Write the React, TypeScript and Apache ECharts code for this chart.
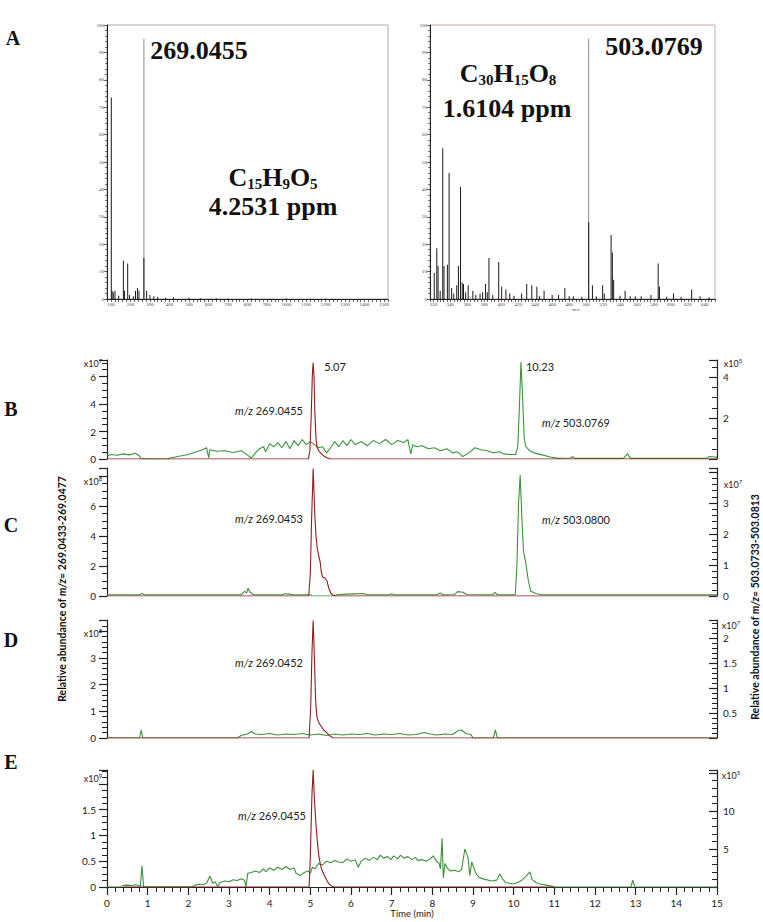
import React, { useEffect, useRef } from "react";
import * as echarts from "echarts";

// ---------- Panel A: mass spectra ----------
const SPEC1_PEAKS: [number, number][] = [
  [102, 73.5], [106, 3], [112, 2.5], [121, 3], [140, 1.2], [164, 14], [170, 3], [186, 13],
  [195, 1.5], [215, 1], [226, 3], [236, 4], [244, 3], [269.0455, 15], [283, 3], [300, 1.5],
  [320, 1], [340, 0.8], [380, 0.5], [420, 0.6], [500, 0.4], [560, 0.3], [640, 0.3],
  [700, 0.2], [820, 0.2], [1000, 0.2], [1200, 0.2],
];
const SPEC1_MARK: [number, number][] = [[269.0455, 95]];

const SPEC2_PEAKS: [number, number][] = [
  [321, 9.5], [324, 18.5], [325.5, 12], [328, 3], [331, 55], [332.5, 12], [336.5, 12.5],
  [338.5, 46], [341.5, 4], [344, 2], [347.5, 5], [349.5, 12], [352, 41], [354, 6],
  [355.5, 5.5], [358, 2.5], [361, 5], [366.5, 3], [370, 1.5], [375, 2], [378, 2.5],
  [381.5, 5.5], [383.5, 2.5], [385.5, 15], [390, 1.5], [397, 13.5], [400.5, 4.5],
  [405.5, 3.5], [410, 2], [415, 1.2], [424, 2], [430, 5.5], [436, 5], [442, 4.5],
  [445, 1], [450.5, 3], [460, 1.5], [467.5, 1.5], [475, 4], [480, 1], [485, 1], [495, 0.8],
  [503.0769, 28], [507.5, 5], [512, 1], [519.5, 5], [521.5, 2], [529.5, 23.4], [531, 17],
  [532.5, 7], [540, 1.2], [546, 3], [552, 1], [558, 1], [565, 1], [576.5, 1.5], [585, 13],
  [586.5, 4.5], [595, 0.8], [603, 2], [612, 0.8], [624.5, 3.5], [634.5, 1], [645, 0.6],
];
const SPEC2_MARK: [number, number][] = [[503.0769, 95]];

const SPEC1_X_LABELS = [100, 200, 300, 400, 500, 600, 700, 800, 900, 1000, 1100, 1200, 1300, 1400, 1500];
const SPEC2_X_LABELS = [320, 340, 360, 380, 400, 420, 440, 460, 480, 500, 520, 540, 560, 580, 600, 620, 640];
const SPEC_Y_LABELS = [0, 10, 20, 30, 40, 50, 60, 70, 80, 90, 100];

// ---------- Panels B–E: chromatograms (time in min) ----------
const B_RED: [number, number][] = [
  [0, 0], [4.95, 0], [4.99, 0.6], [5.02, 3.0], [5.05, 6.2], [5.07, 7.0], [5.09, 6.0], [5.11, 3.5],
  [5.14, 1.4], [5.17, 0.8], [5.22, 0.55], [5.28, 0.35], [5.35, 0.18], [5.42, 0.07], [5.5, 0], [15, 0],
];
const B_GREEN: [number, number][] = [
  [0, 0.15], [0.1, 0.22], [0.25, 0.18], [0.4, 0.25], [0.55, 0.2], [0.7, 0.28], [0.8, 0.15], [0.83, 0.02],
  [1.0, 0], [1.5, 0], [1.56, 0.05], [1.8, 0.15], [2.0, 0.22], [2.2, 0.35], [2.35, 0.45], [2.45, 0.55],
  [2.5, 0.05], [2.53, 0.45], [2.7, 0.38], [2.9, 0.4], [3.1, 0.32], [3.3, 0.4], [3.45, 0.2], [3.55, 0.05],
  [3.65, 0.3], [3.75, 0.5], [3.85, 0.6], [3.9, 0.35], [4.0, 0.75], [4.1, 0.6], [4.2, 0.8], [4.3, 0.55],
  [4.4, 0.85], [4.5, 0.5], [4.6, 0.9], [4.7, 0.65], [4.8, 0.95], [4.9, 0.7], [5.0, 0.85], [5.1, 0.7],
  [5.2, 0.55], [5.3, 0.6], [5.4, 0.3], [5.5, 0.55], [5.6, 0.85], [5.7, 0.6], [5.8, 0.9], [5.9, 0.65],
  [6.0, 0.95], [6.1, 0.7], [6.25, 0.85], [6.4, 0.65], [6.55, 0.9], [6.7, 0.75], [6.85, 0.95], [7.0, 0.7],
  [7.15, 0.9], [7.3, 0.8], [7.4, 0.95], [7.47, 0.25], [7.52, 0.7], [7.6, 0.6], [7.75, 0.65], [7.9, 0.5],
  [8.05, 0.55], [8.2, 0.4], [8.36, 0.5], [8.5, 0.3], [8.62, 0.35], [8.75, 0.12], [8.9, 0.3], [9.05, 0.55],
  [9.2, 0.45], [9.35, 0.4], [9.5, 0.3], [9.65, 0.35], [9.75, 0.25], [9.9, 0.22], [10.05, 0.22], [10.1, 0.6],
  [10.14, 2.5], [10.18, 4.73], [10.22, 3.0], [10.26, 1.0], [10.3, 0.6], [10.4, 0.4], [10.5, 0.3], [10.7, 0.2],
  [10.9, 0.1], [11.1, 0.03], [11.4, 0.05], [11.45, 0.12], [11.5, 0.03], [12.7, 0.03], [12.8, 0.25],
  [12.87, 0.03], [14.75, 0.03], [14.8, 0.12], [14.95, 0.1], [15, 0.08],
];
const C_RED: [number, number][] = [
  [0, 0], [4.96, 0], [5.0, 1.5], [5.03, 5.0], [5.07, 8.5], [5.09, 7.0], [5.11, 5.4], [5.14, 4.0],
  [5.17, 3.2], [5.21, 2.6], [5.24, 2.3], [5.27, 1.6], [5.3, 1.25], [5.36, 1.2], [5.41, 1.0], [5.45, 0.55],
  [5.5, 0.2], [5.56, 0.05], [5.62, 0], [15, 0],
];
const C_GREEN: [number, number][] = [
  [0, 0.04], [0.8, 0.04], [0.86, 0.08], [0.92, 0.04], [3.3, 0.04], [3.38, 0.15], [3.43, 0.1], [3.47, 0.25],
  [3.52, 0.12], [3.6, 0.04], [4.3, 0.04], [4.38, 0.07], [4.5, 0.06], [4.58, 0.04], [5.0, 0.04], [5.05, 0],
  [5.6, 0], [5.65, 0.04], [5.9, 0.06], [6.1, 0.07], [6.3, 0.08], [6.4, 0.04], [6.95, 0.04], [7.0, 0.07],
  [7.05, 0.04], [8.12, 0.04], [8.19, 0.1], [8.26, 0.04], [8.55, 0.05], [8.62, 0.14], [8.75, 0.12],
  [8.85, 0.05], [9.48, 0.04], [9.54, 0.12], [9.6, 0.04], [10.04, 0.04], [10.08, 1.0], [10.12, 3.0],
  [10.16, 3.9], [10.2, 2.6], [10.24, 1.45], [10.3, 1.05], [10.36, 0.5], [10.42, 0.15], [10.55, 0.08],
  [10.7, 0.04], [15, 0.04],
];
const D_RED: [number, number][] = [
  [0, 0], [4.97, 0], [5.01, 1.2], [5.04, 3.2], [5.07, 4.4], [5.1, 3.0], [5.13, 1.4], [5.16, 0.8],
  [5.2, 0.6], [5.26, 0.45], [5.33, 0.3], [5.4, 0.2], [5.48, 0.08], [5.56, 0], [15, 0],
];
const D_GREEN: [number, number][] = [
  [0, 0], [0.8, 0], [0.84, 0.16], [0.88, 0], [3.2, 0], [3.3, 0.05], [3.45, 0.08], [3.55, 0.13],
  [3.65, 0.08], [3.8, 0.07], [4.0, 0.09], [4.2, 0.06], [4.4, 0.08], [4.6, 0.07], [4.8, 0.09], [5.0, 0.06],
  [5.2, 0.08], [5.4, 0.05], [5.6, 0.08], [5.8, 0.06], [6.0, 0.08], [6.2, 0.07], [6.4, 0.09], [6.6, 0.06],
  [6.8, 0.08], [7.0, 0.07], [7.2, 0.09], [7.4, 0.06], [7.6, 0.07], [7.8, 0.11], [7.95, 0.08], [8.1, 0.06],
  [8.3, 0.08], [8.5, 0.07], [8.62, 0.14], [8.72, 0.16], [8.82, 0.09], [8.95, 0.07], [9.0, 0], [9.5, 0],
  [9.55, 0.16], [9.6, 0], [15, 0],
];
const E_RED: [number, number][] = [
  [0.4, 0], [4.97, 0], [5.0, 0.6], [5.04, 1.8], [5.07, 2.27], [5.1, 1.7], [5.14, 1.2], [5.17, 0.9],
  [5.21, 0.6], [5.25, 0.42], [5.31, 0.28], [5.38, 0.17], [5.45, 0.07], [5.52, 0.02], [5.6, 0], [11.0, 0],
];
const E_GREEN: [number, number][] = [
  [0, 0], [0.35, 0], [0.38, 0.2], [0.5, 0.25], [0.6, 0.2], [0.7, 0.3], [0.78, 0.2], [0.82, 0.1], [0.86, 2.8],
  [0.9, 0.05], [1.0, 0], [2.1, 0], [2.15, 0.2], [2.25, 0.35], [2.35, 0.3], [2.45, 0.5], [2.53, 1.45],
  [2.6, 0.5], [2.66, 0.7], [2.72, 0.05], [2.78, 0.6], [2.9, 0.8], [3.0, 0.7], [3.1, 0.95], [3.2, 0.85],
  [3.3, 1.1], [3.38, 0.9], [3.42, 0.05], [3.46, 1.8], [3.55, 1.9], [3.65, 2.1], [3.75, 1.9], [3.85, 2.4],
  [3.9, 2.0], [4.0, 2.5], [4.1, 2.2], [4.2, 2.6], [4.3, 2.3], [4.4, 2.7], [4.5, 2.3], [4.6, 2.5],
  [4.65, 1.8], [4.75, 1.5], [4.85, 1.9], [4.95, 2.1], [5.0, 1.8], [5.05, 2.6], [5.12, 2.4], [5.2, 3.1],
  [5.3, 2.9], [5.4, 3.4], [5.5, 3.2], [5.6, 3.5], [5.7, 3.3], [5.8, 3.2], [5.9, 3.7], [6.0, 3.4],
  [6.1, 3.6], [6.18, 2.6], [6.25, 3.4], [6.35, 3.8], [6.45, 3.5], [6.55, 3.9], [6.65, 3.6], [6.72, 4.2],
  [6.8, 3.8], [6.9, 4.0], [6.98, 3.6], [7.05, 4.1], [7.15, 3.7], [7.22, 4.2], [7.3, 3.8], [7.4, 4.0],
  [7.5, 3.6], [7.58, 3.9], [7.65, 3.5], [7.75, 3.6], [7.85, 3.4], [7.95, 3.7], [8.02, 4.1], [8.1, 3.4],
  [8.16, 3.2], [8.2, 2.4], [8.24, 6.4], [8.27, 1.2], [8.31, 3.1], [8.38, 2.4], [8.45, 2.1], [8.55, 2.2],
  [8.65, 2.0], [8.72, 2.3], [8.8, 5.0], [8.85, 4.3], [8.88, 3.8], [8.92, 1.5], [8.97, 3.3], [9.02, 2.5],
  [9.08, 1.7], [9.17, 1.2], [9.3, 1.0], [9.45, 0.8], [9.58, 0.9], [9.66, 1.7], [9.72, 1.1], [9.8, 0.6],
  [9.9, 0.5], [10.0, 0.4], [10.1, 0.6], [10.2, 0.9], [10.3, 1.4], [10.4, 2.0], [10.45, 1.0], [10.55, 0.6],
  [10.65, 0.4], [10.8, 0.25], [10.95, 0.1], [11.0, 0], [12.88, 0], [12.93, 0.9], [12.98, 0], [15, 0],
];

const TIME_LABELS = [0, 1, 2, 3, 4, 5, 6, 7, 8, 9, 10, 11, 12, 13, 14, 15];
const B_LEFT_TICKS = [0, 2, 4, 6];
const B_RIGHT_TICKS = [2, 4];
const C_LEFT_TICKS = [0, 2, 4, 6];
const C_RIGHT_TICKS = [0, 1, 2, 3];
const D_LEFT_TICKS = [0, 1, 2, 3];
const D_RIGHT_TICKS = [0.5, 1, 1.5, 2];
const E_LEFT_TICKS = [0, 0.5, 1, 1.5];
const E_RIGHT_TICKS = [5, 10];

const RED = "#8e1d1d";
const GREEN = "#3b923b";
const INK = "#222";
const SERIF = '"Liberation Serif", "Times New Roman", serif';
const SANS = "Lato, 'Noto Sans', sans-serif";

const pick = (labels: number[]) => (v: number) =>
  labels.some((l) => Math.abs(l - v) < 1e-6) ? String(v) : "";

const PANELS = [
  { top: 360, height: 99, lMax: 7.2, lInt: 2, lSplit: 4, lTicks: B_LEFT_TICKS, rMax: 4.83, rInt: 2, rSplit: 4, rTicks: B_RIGHT_TICKS, red: B_RED, green: B_GREEN },
  { top: 468, height: 128, lMax: 8.53, lInt: 2, lSplit: 4, lTicks: C_LEFT_TICKS, rMax: 4.13, rInt: 1, rSplit: 5, rTicks: C_RIGHT_TICKS, red: C_RED, green: C_GREEN },
  { top: 620, height: 118, lMax: 4.42, lInt: 1, lSplit: 5, lTicks: D_LEFT_TICKS, rMax: 2.36, rInt: 0.5, rSplit: 5, rTicks: D_RIGHT_TICKS, red: D_RED, green: D_GREEN },
  { top: 770, height: 117, lMax: 2.27, lInt: 0.5, lSplit: 4, lTicks: E_LEFT_TICKS, rMax: 15.4, rInt: 5, rSplit: 5, rTicks: E_RIGHT_TICKS, red: E_RED, green: E_GREEN },
];

function buildOption() {
  const grid: any[] = [
    { left: 107, top: 25, width: 281, height: 274, show: true, borderColor: "#aaa", borderWidth: 1, containLabel: false, outerBoundsMode: "none" },
    { left: 430, top: 25, width: 285, height: 274, show: true, borderColor: "#cfa3a3", borderWidth: 1, containLabel: false, outerBoundsMode: "none" },
  ];
  const tinyAxis = (labels: number[]) => ({
    axisLine: { show: true, lineStyle: { color: INK, width: 1 } },
    axisTick: { show: true, length: 3, interval: 0, lineStyle: { color: INK, width: 0.7 } },
    axisLabel: { show: true, interval: 0, fontSize: 5, color: "#444", margin: 3, fontFamily: SERIF, formatter: pick(labels) },
    splitLine: { show: false },
  });
  const xAxis: any[] = [
    { type: "value", gridIndex: 0, min: 80, max: 1520, interval: 20, ...tinyAxis(SPEC1_X_LABELS) },
    { type: "value", gridIndex: 1, min: 316, max: 652, interval: 4, ...tinyAxis(SPEC2_X_LABELS) },
  ];
  const yAxis: any[] = [
    { type: "value", gridIndex: 0, min: 0, max: 100, interval: 10, ...tinyAxis(SPEC_Y_LABELS), minorTick: { show: true, splitNumber: 5, length: 2, lineStyle: { color: INK, width: 0.6 } } },
    { type: "value", gridIndex: 1, min: 0, max: 100, interval: 10, ...tinyAxis(SPEC_Y_LABELS), minorTick: { show: true, splitNumber: 5, length: 2, lineStyle: { color: INK, width: 0.6 } } },
  ];
  const series: any[] = [
    { type: "bar", xAxisIndex: 0, yAxisIndex: 0, data: SPEC1_MARK, barWidth: 1, barGap: "-100%", itemStyle: { color: "#8a8a8a" }, silent: true },
    { type: "bar", xAxisIndex: 0, yAxisIndex: 0, data: SPEC1_PEAKS, barWidth: 1, barGap: "-100%", itemStyle: { color: "#1a1a1a" }, silent: true },
    { type: "bar", xAxisIndex: 1, yAxisIndex: 1, data: SPEC2_MARK, barWidth: 1, barGap: "-100%", itemStyle: { color: "#8a8a8a" }, silent: true },
    { type: "bar", xAxisIndex: 1, yAxisIndex: 1, data: SPEC2_PEAKS, barWidth: 1, barGap: "-100%", itemStyle: { color: "#1a1a1a" }, silent: true },
  ];

  PANELS.forEach((p, i) => {
    const gi = 2 + i;
    const isLast = i === PANELS.length - 1;
    grid.push({ left: 107, width: 610, top: p.top, height: p.height, containLabel: false, outerBoundsMode: "none" });
    xAxis.push({
      type: "value", gridIndex: gi, min: 0, max: 15, interval: 1, show: isLast,
      axisLine: { show: true, lineStyle: { color: INK, width: 1.2 } },
      axisTick: { show: true, length: 8, lineStyle: { color: INK, width: 1.2 } },
      minorTick: { show: true, splitNumber: 5, length: 5, lineStyle: { color: INK, width: 1 } },
      axisLabel: { fontSize: 10, color: INK, margin: 11, fontFamily: SANS, formatter: pick(TIME_LABELS) },
      splitLine: { show: false },
      name: isLast ? "Time (min)" : "", nameLocation: "middle", nameGap: 21,
      nameTextStyle: { fontSize: 9.5, color: INK, fontFamily: SANS },
    });
    const yBase = (max: number, interval: number, split: number, ticks: number[], right: boolean) => ({
      type: "value", gridIndex: gi, position: right ? "right" : "left", min: 0, max, interval,
      axisLine: { show: true, lineStyle: { color: INK, width: 1.2 } },
      axisTick: { show: true, inside: right, length: 8, lineStyle: { color: INK, width: 1.2 } },
      minorTick: { show: true, splitNumber: split, length: 5, lineStyle: { color: INK, width: 1 } },
      axisLabel: { fontSize: 10, color: INK, margin: right ? 6 : 11, fontFamily: SANS, formatter: pick(ticks) },
      splitLine: { show: false },
    });
    const li = yAxis.length;
    yAxis.push(yBase(p.lMax, p.lInt, p.lSplit, p.lTicks, false));
    yAxis.push(yBase(p.rMax, p.rInt, p.rSplit, p.rTicks, true));
    series.push({
      type: "line", xAxisIndex: gi, yAxisIndex: li + 1, data: p.green, symbol: "none", silent: true,
      lineStyle: { color: GREEN, width: 1.1 }, z: 2,
    });
    series.push({
      type: "line", xAxisIndex: gi, yAxisIndex: li, data: p.red, symbol: "none", silent: true,
      lineStyle: { color: RED, width: 1.1 }, z: 3,
    });
  });

  const txt = (x: number, y: number, text: string, extra: any = {}, rot = 0) => ({
    type: "text", x, y, rotation: rot, silent: true,
    style: { text, align: "center", verticalAlign: "middle", fill: "#111", ...extra },
  });
  const bigNum = { fontSize: 26, fontWeight: "bold", fontFamily: SERIF };
  const formulaRich = {
    m: { fontSize: 26, fontWeight: "bold", fontFamily: SERIF, lineHeight: 28, fill: "#111" },
    s: { fontSize: 15, fontWeight: "bold", fontFamily: SERIF, lineHeight: 17, verticalAlign: "bottom", fill: "#111" },
  };
  const letter = { fontSize: 20, fontWeight: "bold", fontFamily: SERIF };
  const ann = { fontSize: 11, fontFamily: SANS, fill: INK, rich: { i: { fontStyle: "italic", fontSize: 11, fontFamily: SANS, fill: INK } } };
  const expRich = {
    rich: {
      a: { fontSize: 9, fontFamily: SANS, fill: INK, lineHeight: 11 },
      s: { fontSize: 6, fontFamily: SANS, fill: INK, lineHeight: 7, verticalAlign: "top" },
    },
  };
  const titleRich = {
    rich: {
      b: { fontSize: 10.5, fontWeight: "bold", fontFamily: SANS, fill: "#111" },
      i: { fontSize: 10.5, fontWeight: "bold", fontStyle: "italic", fontFamily: SANS, fill: "#111" },
    },
  };

  const graphic: any[] = [
    txt(13, 38, "A", letter), txt(11, 409, "B", letter), txt(11, 525, "C", letter),
    txt(11, 640, "D", letter), txt(11, 762, "E", letter),
    txt(199, 50, "269.0455", bigNum),
    txt(273, 177, "{m|C}{s|15}{m|H}{s|9}{m|O}{s|5}", { rich: formulaRich }),
    txt(273, 206, "4.2531 ppm", bigNum),
    txt(654, 46, "503.0769", bigNum),
    txt(508, 73, "{m|C}{s|30}{m|H}{s|15}{m|O}{s|8}", { rich: formulaRich }),
    txt(507, 108, "1.6104 ppm", bigNum),
    txt(576, 309, "m/z", { fontSize: 5, fontFamily: SERIF, fill: "#444" }),
    txt(335, 366, "5.07", { fontSize: 11, fontFamily: SANS, fill: INK }),
    txt(540, 366, "10.23", { fontSize: 11, fontFamily: SANS, fill: INK }),
    txt(269, 410, "{i|m/z} 269.0455", ann),
    txt(576, 422, "{i|m/z} 503.0769", ann),
    txt(269, 518, "{i|m/z} 269.0453", ann),
    txt(576, 519, "{i|m/z} 503.0800", ann),
    txt(269, 662, "{i|m/z} 269.0452", ann),
    txt(272, 815, "{i|m/z} 269.0455", ann),
    txt(93, 363, "{a|x10}{s|7}", expRich), txt(733, 363, "{a|x10}{s|5}", expRich),
    txt(93, 481, "{a|x10}{s|8}", expRich), txt(733, 484, "{a|x10}{s|7}", expRich),
    txt(93, 633, "{a|x10}{s|8}", expRich), txt(731, 625, "{a|x10}{s|7}", expRich),
    txt(93, 778, "{a|x10}{s|9}", expRich), txt(731, 775, "{a|x10}{s|5}", expRich),
    txt(62, 589, "{b|Relative abundance of }{i|m/z}{b|= 269.0433-269.0477}", titleRich, Math.PI / 2),
    txt(755, 607, "{b|Relative abundance of }{i|m/z}{b|= 503.0733-503.0813}", titleRich, Math.PI / 2),
  ];

  return {
    animation: false,
    backgroundColor: "#fff",
    textStyle: { fontFamily: SANS },
    grid, xAxis, yAxis, series, graphic,
  };
}

export default function App() {
  const ref = useRef<HTMLDivElement>(null);
  useEffect(() => {
    if (!ref.current) return;
    const chart = echarts.init(ref.current, undefined, { renderer: "svg" });
    chart.setOption(buildOption() as any);
    return () => chart.dispose();
  }, []);
  return <div ref={ref} style={{ position: "absolute", left: 0, top: 0, width: 763, height: 922 }} />;
}
